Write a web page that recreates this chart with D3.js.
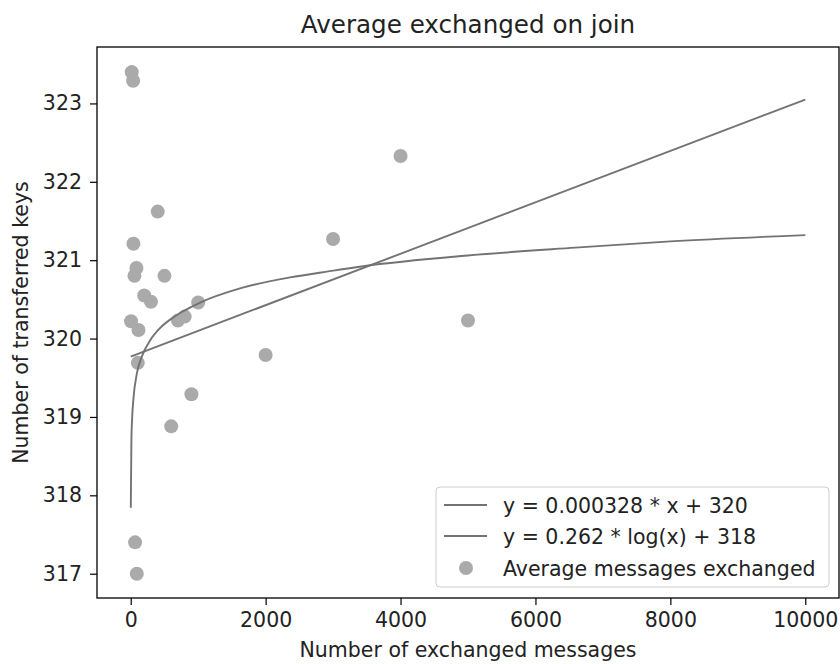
<!DOCTYPE html>
<html>
<head>
<meta charset="utf-8">
<script src="https://cdn.jsdelivr.net/npm/d3@7"></script>
<style>
  html, body { margin: 0; padding: 0; background: #fff; }
  svg { display: block; font-family: "DejaVu Sans", sans-serif; }
</style>
</head>
<body>
<svg id="chart" width="840" height="664"></svg>
<script>
// ─── Data ────────────────────────────────────────────────────────────────
const xTicks = [0, 2000, 4000, 6000, 8000, 10000];
const yTicks = [317, 318, 319, 320, 321, 322, 323];

// scatter: average messages exchanged
const msgX = [5, 15, 35, 40, 55, 65, 85, 90, 105, 115,
  200, 300, 400, 500, 600, 700, 800, 900, 1000, 2000, 3000, 4000, 5000];
const keysY = [320.22, 323.40, 323.29, 321.21, 320.80, 317.40, 320.90, 317.00, 319.69, 320.11,
  320.55, 320.47, 321.62, 320.80, 318.88, 320.23, 320.28, 319.29, 320.46, 319.79, 321.27, 322.33, 320.23];

// fitted lines
const linFitX = [0, 10000];
const linFitY = [319.77, 323.05];
const logFitX = [1, 10, 20, 40, 90, 160, 290, 430, 630, 780, 1030, 1620, 2360, 2950, 3420, 5000, 6590, 8000, 10000];
const logFitY = [317.84, 318.70, 318.97, 319.23, 319.55, 319.76, 319.98, 320.13, 320.27, 320.35,
  320.46, 320.64, 320.78, 320.86, 320.92, 321.06, 321.16, 321.24, 321.32];

const legendLabels = ["y = 0.000328 * x + 320", "y = 0.262 * log(x) + 318", "Average messages exchanged"];

// ─── Layout ──────────────────────────────────────────────────────────────
const W = 840, H = 664;
const M = { top: 47, right: 1, bottom: 66, left: 97 };
const FS = 20.5;
const LINE_COL = "#737373", DOT_COL = "#aaaaaa", TXT = "#222";

const svg = d3.select("#chart");

const x = d3.scaleLinear().domain([-500, 10500]).range([M.left, W - M.right]);
const y = d3.scaleLinear().domain([316.69, 323.72]).range([H - M.bottom, M.top]);

// points
svg.append("g")
  .selectAll("circle")
  .data(msgX.map((v, i) => [v, keysY[i]]))
  .join("circle")
  .attr("cx", d => x(d[0]))
  .attr("cy", d => y(d[1]))
  .attr("r", 7)
  .attr("fill", DOT_COL);

// fit lines
const line = d3.line().x(d => x(d[0])).y(d => y(d[1]));
svg.append("path")
  .datum(linFitX.map((v, i) => [v, linFitY[i]]))
  .attr("d", line)
  .attr("fill", "none").attr("stroke", LINE_COL).attr("stroke-width", 1.9);
svg.append("path")
  .datum(logFitX.map((v, i) => [v, logFitY[i]]))
  .attr("d", line.curve(d3.curveMonotoneX))
  .attr("fill", "none").attr("stroke", LINE_COL).attr("stroke-width", 1.9);

// axes
const xAxis = svg.append("g")
  .attr("transform", `translate(0,${H - M.bottom})`)
  .call(d3.axisBottom(x).tickValues(xTicks).tickFormat(d3.format("d")).tickSize(7).tickPadding(7));
const yAxis = svg.append("g")
  .attr("transform", `translate(${M.left},0)`)
  .call(d3.axisLeft(y).tickValues(yTicks).tickFormat(d3.format("d")).tickSize(7).tickPadding(8));

[xAxis, yAxis].forEach(g => {
  g.select(".domain").remove();
  g.selectAll(".tick line").attr("stroke", "#000").attr("stroke-width", 1.2);
  g.selectAll(".tick text")
    .attr("font-family", "DejaVu Sans").attr("font-size", FS).attr("fill", TXT);
});

// frame
svg.append("rect")
  .attr("x", M.left).attr("y", M.top)
  .attr("width", W - M.left - M.right).attr("height", H - M.top - M.bottom)
  .attr("fill", "none").attr("stroke", "#000").attr("stroke-width", 1.3);

// title & labels
svg.append("text")
  .attr("x", (M.left + W - M.right) / 2).attr("y", 33)
  .attr("text-anchor", "middle").attr("font-size", 24.6).attr("fill", TXT)
  .text("Average exchanged on join");
svg.append("text")
  .attr("x", (M.left + W - M.right) / 2).attr("y", 657)
  .attr("text-anchor", "middle").attr("font-size", FS).attr("fill", TXT)
  .text("Number of exchanged messages");
svg.append("text")
  .attr("transform", `translate(28,${(M.top + H - M.bottom) / 2}) rotate(-90)`)
  .attr("text-anchor", "middle").attr("font-size", FS).attr("fill", TXT)
  .text("Number of transferred keys");

// legend
const leg = svg.append("g").attr("transform", "translate(436,487)");
leg.append("rect")
  .attr("width", 393).attr("height", 100).attr("rx", 4)
  .attr("fill", "#fff").attr("fill-opacity", 0.8)
  .attr("stroke", "#cccccc").attr("stroke-width", 1);
const rowY = [18, 49, 81];
legendLabels.forEach((lab, i) => {
  if (i < 2) {
    leg.append("line")
      .attr("x1", 8).attr("x2", 51).attr("y1", rowY[i]).attr("y2", rowY[i])
      .attr("stroke", LINE_COL).attr("stroke-width", 1.9);
  } else {
    leg.append("circle").attr("cx", 30).attr("cy", rowY[i]).attr("r", 7).attr("fill", DOT_COL);
  }
  leg.append("text")
    .attr("x", 67).attr("y", rowY[i] + 7.5)
    .attr("font-size", FS).attr("fill", TXT)
    .text(lab);
});
</script>
</body>
</html>
